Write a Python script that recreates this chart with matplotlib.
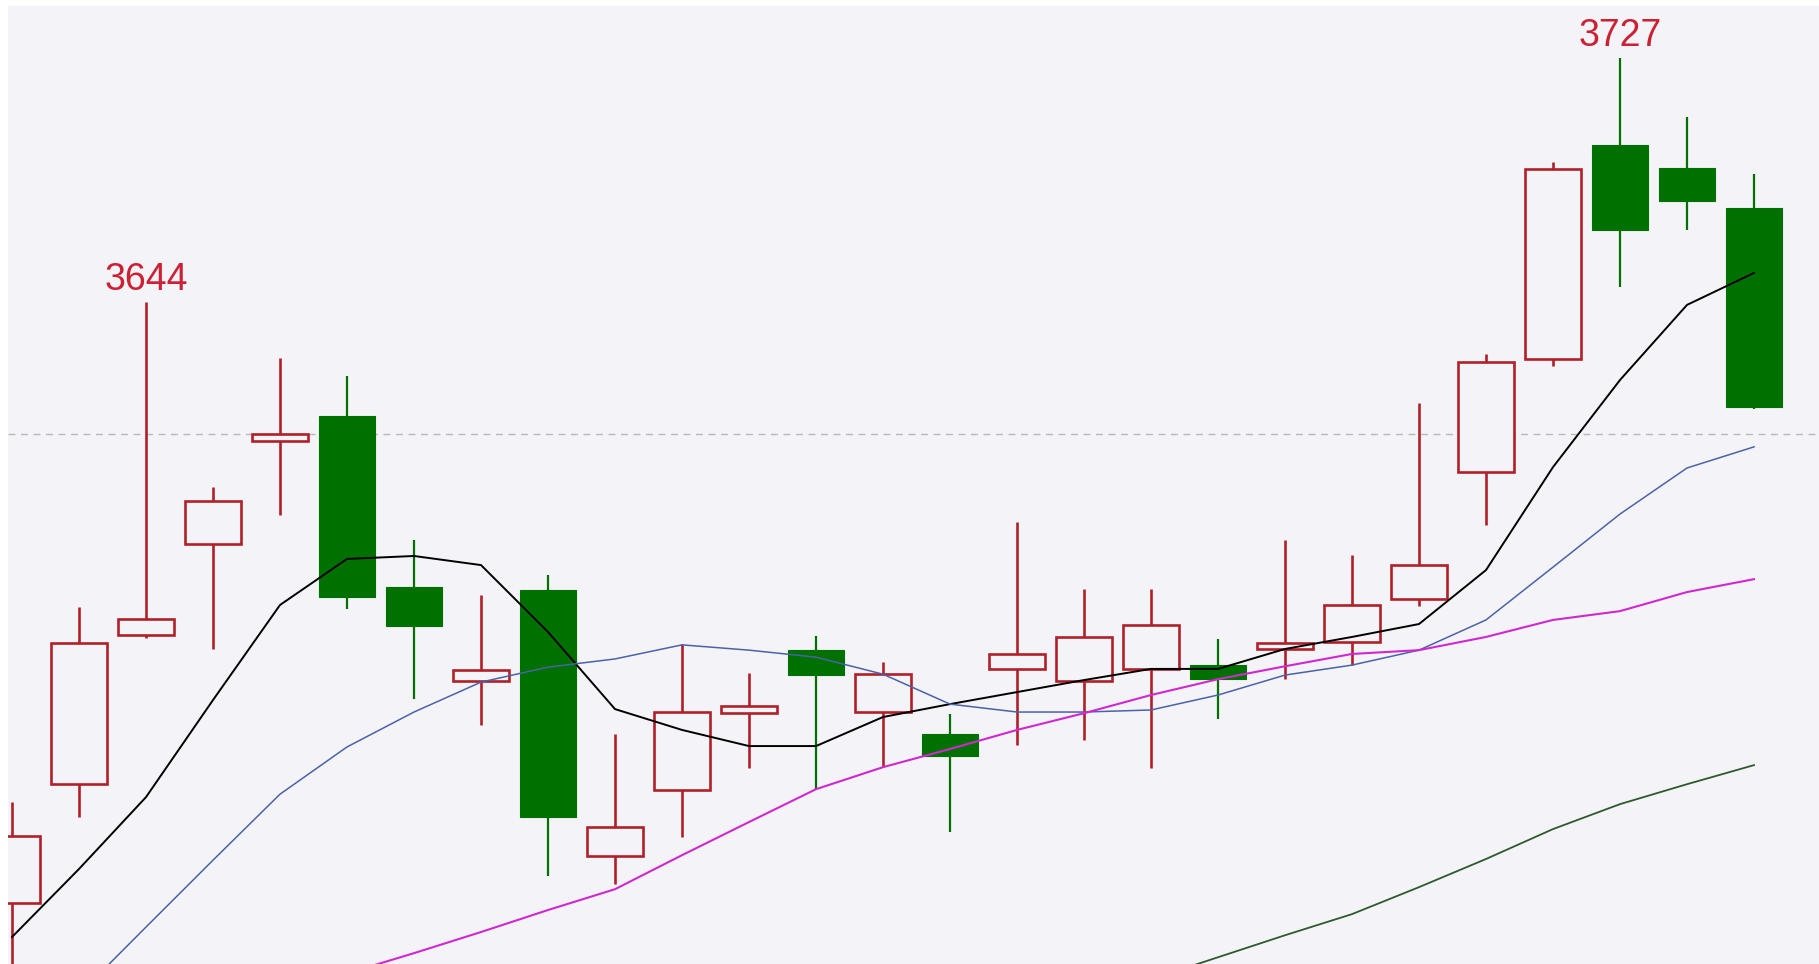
import numpy as np
import matplotlib
matplotlib.use("Agg")
import matplotlib.pyplot as plt
from matplotlib.patches import Rectangle

# daily candles
opens  = [3439.1, 3479.4, 3530.4, 3561.3, 3596.6, 3605.0, 3546.6, 3514.7, 3545.8,
          3454.9, 3477.4, 3503.8, 3525.1, 3504.1, 3496.5, 3518.9, 3514.7, 3518.9,
          3520.0, 3525.7, 3528.0, 3542.7, 3586.0, 3624.4, 3697.3, 3689.5, 3675.8]
closes = [3461.8, 3527.7, 3535.9, 3576.0, 3598.8, 3543.3, 3533.4, 3518.3, 3468.3,
          3464.9, 3504.1, 3506.1, 3516.6, 3517.1, 3489.0, 3523.8, 3529.7, 3533.7,
          3515.4, 3527.5, 3540.7, 3554.3, 3623.5, 3689.3, 3668.5, 3678.3, 3608.0]
highs  = [3473.4, 3539.9, 3644.0, 3580.8, 3624.7, 3618.7, 3562.6, 3543.9, 3550.7,
          3496.7, 3527.4, 3517.4, 3530.0, 3521.1, 3503.3, 3568.9, 3545.9, 3545.9,
          3529.1, 3562.6, 3557.5, 3609.6, 3626.2, 3691.5, 3727.0, 3707.1, 3687.5]
lows   = [3410.0, 3468.3, 3529.3, 3525.7, 3571.2, 3539.1, 3508.6, 3499.8, 3448.1,
          3445.5, 3461.5, 3485.0, 3477.9, 3485.3, 3463.2, 3492.7, 3494.6, 3485.0,
          3501.6, 3515.4, 3520.2, 3540.2, 3567.8, 3622.1, 3648.9, 3668.5, 3607.3]

ma5  = [3427.4, 3450.6, 3475.1, 3508.2, 3540.6, 3556.3, 3557.3, 3554.2, 3531.4,
        3505.1, 3498.0, 3492.5, 3492.5, 3502.4, 3506.8, 3510.9, 3515.0, 3518.8,
        3518.8, 3525.6, 3529.7, 3534.1, 3552.5, 3587.6, 3617.3, 3642.9, 3653.8]
ma10 = [3385.0, 3407.9, 3430.8, 3453.6, 3476.1, 3492.2, 3504.1, 3514.3, 3519.4,
        3522.2, 3527.0, 3525.2, 3522.8, 3517.0, 3506.8, 3504.1, 3504.1, 3504.8,
        3509.9, 3516.7, 3520.1, 3525.2, 3535.5, 3553.5, 3571.6, 3587.3, 3594.5]
ma20 = [np.nan, np.nan, np.nan, np.nan, 3408.0, 3415.0, 3421.9, 3429.1, 3436.6,
        3443.7, 3455.3, 3466.6, 3477.8, 3485.3, 3491.5, 3498.0, 3503.7, 3509.9,
        3515.3, 3519.7, 3523.9, 3525.2, 3529.7, 3535.5, 3538.5, 3545.0, 3549.4]
ma60 = [np.nan] * 17 + [3413.0, 3420.5, 3428.0, 3435.2, 3444.4, 3454.0, 3464.2,
                        3472.7, 3479.5, 3486.0]

ref_price = 3599
peak_labels = {2: "3644", 24: "3727"}

bg = "#f4f4f8"
up_color = "#b0202a"
down_color = "#007000"

fig = plt.figure(figsize=(18.19, 9.64), dpi=100)
ax = fig.add_axes([8 / 1819, 0, 1 - 8 / 1819, 958 / 964])
ax.set_facecolor(bg)

x = np.arange(len(opens))
w = 0.836

ax.axhline(ref_price, color="#b8b8b8", lw=1.0, ls=(0, (5, 4)), zorder=1)

for i in x:
    o, c, h, l = opens[i], closes[i], highs[i], lows[i]
    top, bot = max(o, c), min(o, c)
    if c >= o:
        ax.vlines(i, top, h, color=up_color, lw=1.9, zorder=3)
        ax.vlines(i, l, bot, color=up_color, lw=1.9, zorder=3)
        ax.add_patch(Rectangle((i - w / 2, bot), w, top - bot, facecolor=bg,
                               edgecolor=up_color, lw=1.9, zorder=3))
    else:
        ax.vlines(i, l, h, color=down_color, lw=1.6, zorder=3)
        ax.add_patch(Rectangle((i - w / 2, bot), w, top - bot, facecolor=down_color,
                               edgecolor=down_color, lw=0.8, zorder=3))

ax.plot(x, ma5, color="black", lw=1.4, zorder=4)
ax.plot(x, ma10, color="#4a62a8", lw=1.1, zorder=4)
ax.plot(x, ma20, color="#d028d0", lw=1.5, zorder=4)
ax.plot(x, ma60, color="#2c5a2c", lw=1.3, zorder=4)

for i, txt in peak_labels.items():
    ax.annotate(txt, (i, highs[i]), xytext=(0, 3), textcoords="offset points",
                ha="center", va="bottom", color="#cc2034", fontsize=27,
                family=["Liberation Sans", "DejaVu Sans"], zorder=5)

ax.set_xlim(-0.06, 26.97)
ax.set_ylim(3418.2, 3744.8)
ax.set_xticks([])
ax.set_yticks([])
for s in ax.spines.values():
    s.set_visible(False)

fig.savefig("out.png", dpi=100, facecolor="white")
